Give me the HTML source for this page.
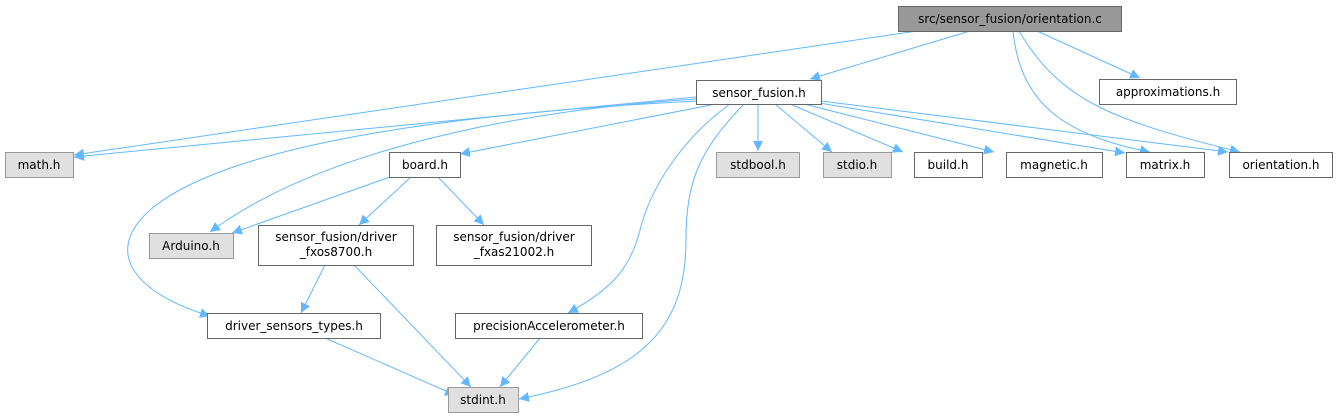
<!DOCTYPE html>
<html><head><meta charset="utf-8"><style>
html,body{margin:0;padding:0;background:#fff;}
svg{display:block}
text{font-family:"DejaVu Sans","Liberation Sans",sans-serif;font-size:12px;fill:#000;}
</style></head><body>
<svg width="1337" height="417" viewBox="0 0 1337 417" xmlns="http://www.w3.org/2000/svg">
<defs>
<marker id="a" viewBox="0 0 10 10" refX="10" refY="5" markerWidth="10" markerHeight="10" markerUnits="userSpaceOnUse" orient="auto">
<path d="M0,0 L10,5 L0,10 z" fill="#63b8ff"/>
</marker>
</defs>
<g fill="none" stroke="#63b8ff" stroke-width="1" marker-end="url(#a)">
<path d="M917,31 L74,155"/>
<path d="M970,31 L810,79"/>
<path d="M1013,31 C1020,100 1060,135 1150,152"/>
<path d="M1019,31 C1060,100 1110,120 1240,152"/>
<path d="M1037,31 L1140,78"/>
<path d="M696,97 L74,157"/>
<path d="M696,99 C520,110 320,150 210,232"/>
<path d="M697,101 C420,115 220,150 150,210 C100,255 140,295 210,316"/>
<path d="M716,104 L460,154"/>
<path d="M730,104 C680,140 650,190 640,230 C630,270 610,290 568,313"/>
<path d="M744,104 C700,150 686,180 686,240 C686,330 640,375 519,399"/>
<path d="M758,104 L758,151"/>
<path d="M775,104 L832,152"/>
<path d="M790,104 L903,152"/>
<path d="M804,104 L994,152"/>
<path d="M819,103 L1125,153"/>
<path d="M821,101 L1228,152"/>
<path d="M390,177 L232,233"/>
<path d="M411,177 L359,225"/>
<path d="M438,177 L484,225"/>
<path d="M325,265 L301,313"/>
<path d="M354,265 L471,387"/>
<path d="M325,338 L455,395"/>
<path d="M540,338 L500,387"/>
</g>
<g stroke-width="1">
<rect x="898.5" y="6.5" width="223" height="25" fill="#999" stroke="#666"/>
<text x="1010" y="23" text-anchor="middle">src/sensor_fusion/orientation.c</text>
<rect x="696.5" y="80.5" width="125" height="24" fill="#fff" stroke="#666"/>
<text x="759" y="97" text-anchor="middle">sensor_fusion.h</text>
<rect x="1099.5" y="79.5" width="137" height="25" fill="#fff" stroke="#666"/>
<text x="1168" y="96" text-anchor="middle">approximations.h</text>
<rect x="5.5" y="152.5" width="68" height="25" fill="#e0e0e0" stroke="#999"/>
<text x="39" y="169" text-anchor="middle">math.h</text>
<rect x="389.5" y="152.5" width="71" height="25" fill="#fff" stroke="#666"/>
<text x="425" y="169" text-anchor="middle">board.h</text>
<rect x="716.5" y="152.5" width="83" height="25" fill="#e0e0e0" stroke="#999"/>
<text x="758" y="169" text-anchor="middle">stdbool.h</text>
<rect x="823.5" y="152.5" width="68" height="25" fill="#e0e0e0" stroke="#999"/>
<text x="857" y="169" text-anchor="middle">stdio.h</text>
<rect x="914.5" y="152.5" width="68" height="25" fill="#fff" stroke="#666"/>
<text x="948" y="169" text-anchor="middle">build.h</text>
<rect x="1006.5" y="152.5" width="96" height="25" fill="#fff" stroke="#666"/>
<text x="1054" y="169" text-anchor="middle">magnetic.h</text>
<rect x="1126.5" y="152.5" width="78" height="25" fill="#fff" stroke="#666"/>
<text x="1165" y="169" text-anchor="middle">matrix.h</text>
<rect x="1229.5" y="152.5" width="103" height="25" fill="#fff" stroke="#666"/>
<text x="1281" y="169" text-anchor="middle">orientation.h</text>
<rect x="149.5" y="233.5" width="84" height="25" fill="#e0e0e0" stroke="#999"/>
<text x="191" y="250" text-anchor="middle">Arduino.h</text>
<rect x="258.5" y="225.5" width="155" height="40" fill="#fff" stroke="#666"/>
<text x="336" y="241" text-anchor="middle">sensor_fusion/driver</text>
<text x="336" y="256" text-anchor="middle">_fxos8700.h</text>
<rect x="436.5" y="225.5" width="155" height="40" fill="#fff" stroke="#666"/>
<text x="514" y="241" text-anchor="middle">sensor_fusion/driver</text>
<text x="514" y="256" text-anchor="middle">_fxas21002.h</text>
<rect x="207.5" y="313.5" width="173" height="25" fill="#fff" stroke="#666"/>
<text x="294" y="330" text-anchor="middle">driver_sensors_types.h</text>
<rect x="455.5" y="313.5" width="187" height="25" fill="#fff" stroke="#666"/>
<text x="549" y="330" text-anchor="middle">precisionAccelerometer.h</text>
<rect x="448.5" y="387.5" width="70" height="25" fill="#e0e0e0" stroke="#999"/>
<text x="483" y="404" text-anchor="middle">stdint.h</text>
</g>
</svg>
</body></html>
